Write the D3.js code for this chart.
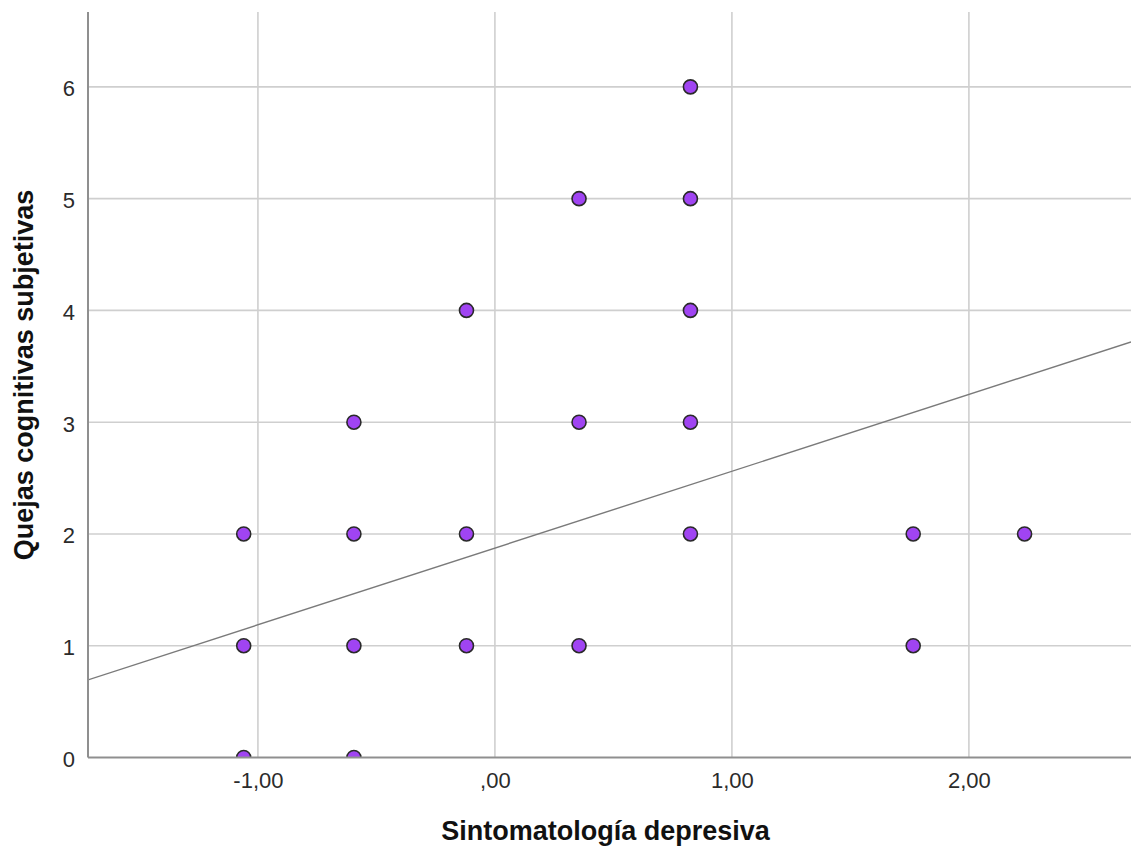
<!DOCTYPE html>
<html>
<head>
<meta charset="utf-8">
<script src="https://cdn.jsdelivr.net/npm/d3@7"></script>
<style>
  html, body { margin: 0; padding: 0; background: #fff; }
  svg { display: block; }
</style>
</head>
<body>
<svg id="chart" width="1131" height="848"></svg>
<script>
// ---- data ----
const depresion = [-1.06, -1.06, -1.06,
                   -0.595, -0.595, -0.595, -0.595,
                   -0.12, -0.12, -0.12,
                   0.355, 0.355, 0.355,
                   0.825, 0.825, 0.825, 0.825, 0.825,
                   1.765, 1.765,
                   2.235];
const quejas = [2, 1, 0,
                3, 2, 1, 0,
                4, 2, 1,
                5, 3, 1,
                6, 5, 4, 3, 2,
                2, 1,
                2];
const xTicks = [-1, 0, 1, 2];
const xTickLabels = ["-1,00", ",00", "1,00", "2,00"];
const yTicks = [0, 1, 2, 3, 4, 5, 6];
const yTickLabels = ["0", "1", "2", "3", "4", "5", "6"];
const xDomain = [-1.717, 2.684];
const yDomain = [0, 6.67];
const fitIntercept = 1.874;
const fitSlope = 0.687;
const xTitle = "Sintomatología depresiva";
const yTitle = "Quejas cognitivas subjetivas";

// ---- layout ----
const svg = d3.select("#chart");
const pLeft = 88, pRight = 1131, pTop = 12, pBottom = 757.5;

const x = d3.scaleLinear().domain(xDomain).range([pLeft, pRight]);
const y = d3.scaleLinear().domain(yDomain).range([pBottom, pTop]);

svg.append("defs").append("clipPath").attr("id", "plotclip")
  .append("rect").attr("x", pLeft).attr("y", pTop)
  .attr("width", pRight - pLeft).attr("height", pBottom - pTop);

// gridlines
const grid = svg.append("g");
grid.selectAll("line.v").data(xTicks).join("line").attr("class", "v")
  .attr("x1", d => x(d)).attr("x2", d => x(d))
  .attr("y1", pTop).attr("y2", pBottom)
  .attr("stroke", "#cfcfcf").attr("stroke-width", 1.6);
grid.selectAll("line.h").data(yTicks.filter(d => d > 0)).join("line").attr("class", "h")
  .attr("x1", pLeft).attr("x2", pRight)
  .attr("y1", d => y(d)).attr("y2", d => y(d))
  .attr("stroke", "#cfcfcf").attr("stroke-width", 1.6);

// regression line
const plot = svg.append("g").attr("clip-path", "url(#plotclip)");
plot.append("line")
  .attr("x1", x(xDomain[0])).attr("y1", y(fitIntercept + fitSlope * xDomain[0]))
  .attr("x2", x(xDomain[1])).attr("y2", y(fitIntercept + fitSlope * xDomain[1]))
  .attr("stroke", "#7a7a7a").attr("stroke-width", 1.4);

// points
plot.selectAll("circle").data(depresion.map((d, i) => [d, quejas[i]])).join("circle")
  .attr("cx", d => x(d[0])).attr("cy", d => y(d[1]))
  .attr("r", 7)
  .attr("fill", "#a044f2")
  .attr("stroke", "#2a2a2a").attr("stroke-width", 1.6);

// axes
const xAxis = svg.append("g").attr("transform", `translate(0,${pBottom})`)
  .call(d3.axisBottom(x).tickValues(xTicks).tickSize(0).tickPadding(15)
        .tickFormat((d, i) => xTickLabels[i]));
xAxis.select(".domain").remove();
xAxis.selectAll("text").attr("font-family", "Liberation Sans, Arial, sans-serif")
  .attr("font-size", 22).attr("fill", "#2b2b2b");

const yAxis = svg.append("g").attr("transform", `translate(${pLeft},0)`)
  .call(d3.axisLeft(y).tickValues(yTicks).tickSize(0).tickPadding(13)
        .tickFormat((d, i) => yTickLabels[i]));
yAxis.select(".domain").remove();
yAxis.selectAll("text").attr("font-family", "Liberation Sans, Arial, sans-serif")
  .attr("font-size", 22).attr("fill", "#2b2b2b").attr("dy", "0.4em");

// axis lines
svg.append("line").attr("x1", pLeft).attr("x2", pLeft).attr("y1", pTop).attr("y2", pBottom)
  .attr("stroke", "#8f8f8f").attr("stroke-width", 2);
svg.append("line").attr("x1", pLeft).attr("x2", pRight).attr("y1", pBottom).attr("y2", pBottom)
  .attr("stroke", "#8f8f8f").attr("stroke-width", 2.2);

// titles
svg.append("text").attr("x", (pLeft + pRight) / 2 - 4).attr("y", 840)
  .attr("text-anchor", "middle")
  .attr("font-family", "Liberation Sans, Arial, sans-serif")
  .attr("font-weight", "bold").attr("font-size", 27).attr("fill", "#111")
  .text(xTitle);

svg.append("text")
  .attr("transform", `translate(33,375) rotate(-90)`)
  .attr("text-anchor", "middle")
  .attr("font-family", "Liberation Sans, Arial, sans-serif")
  .attr("font-weight", "bold").attr("font-size", 27).attr("fill", "#111")
  .text(yTitle);
</script>
</body>
</html>
